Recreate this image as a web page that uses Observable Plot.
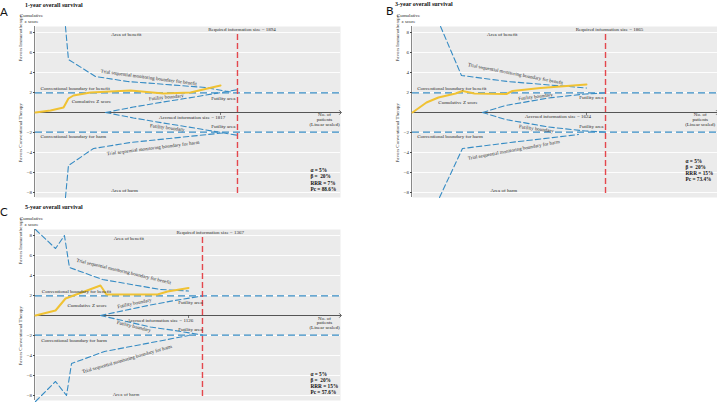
<!DOCTYPE html>
<html><head><meta charset="utf-8">
<script src="https://cdn.jsdelivr.net/npm/d3@7"></script>
<script src="https://cdn.jsdelivr.net/npm/@observablehq/plot@0.6"></script>
<style>
html,body{margin:0;padding:0;background:#fff;overflow:hidden;width:717px;height:402px;position:relative;}
.panel{position:absolute;width:345px;height:200px;}
.letter{position:absolute;font-family:Lato,"Liberation Sans",sans-serif;font-size:11.5px;line-height:1;color:#111;}
.title{position:absolute;font-family:"Liberation Serif",serif;font-weight:bold;font-size:6px;line-height:1;white-space:nowrap;color:#111;}
</style></head><body>
<div class="letter" style="left:0px;top:6px">A</div>
<div class="title" style="left:25px;top:1.5px" id="tA"></div>
<div class="letter" style="left:386px;top:5px">B</div>
<div class="title" style="left:395px;top:1px" id="tB"></div>
<div class="letter" style="left:0px;top:206px">C</div>
<div class="title" style="left:25px;top:203.5px" id="tC"></div>
<div id="A" class="panel" style="left:0px;top:0px"></div>
<div id="B" class="panel" style="left:377px;top:0px"></div>
<div id="C" class="panel" style="left:0px;top:203px"></div>
<script>
// ---------- shared ----------
const yTicks = [8, 6, 4, 2, -2, -4, -6, -8];
const convBoundary = [1.96, -1.96];
const yAxisLabel = "Cumulative\nz score";
const favorsTop = "Favors Immunotherapy";
const favorsBottom = "Favors Conventional Therapy";

// ---------- Panel A: 1-year overall survival ----------
const A_title = "1-year overall survival";
const A_ris = 1894, A_accrued = 1735, A_xmax = 2860;
const A_zX = [0, 141, 263, 309, 356, 516, 891, 1200, 1453, 1613, 1735];
const A_zY = [0, 0.2, 0.5, 1.4, 1.7, 2.0, 2.2, 1.9, 2.0, 2.4, 2.7];
const A_benX = [281, 309, 563, 863, 1594, 1828];
const A_benY = [8.6, 5.3, 3.6, 3.1, 2.5, 2.05];
const A_harmX = [281, 309, 544, 891, 1753];
const A_harmY = [-8.5, -5.3, -3.6, -3.0, -2.05];
const A_futX = [656, 919, 1200, 1547, 1894];
const A_futUp = [0, 0.55, 1.05, 1.65, 2.28];
const A_futLo = [0, -0.55, -1.05, -1.65, -2.28];
const A_stats = ["α = 5%", "β =  20%", "RRR = 7%", "Pc = 88.6%"];
const A_labels = [
  ["Area of benefit", 851, 7.8, 0, "middle"],
  ["Required information size = 1894", 1936, 8.3, 0, "middle"],
  ["Trial sequential monitoring boundary for benefit", 1062, 3.5, 7.5, "middle"],
  ["Conventional boundary for benefit", 47, 2.37, 0, "start"],
  ["Cumulative Z score", 525, 1.13, 0, "middle"],
  ["Futility boundary", 1225, 1.53, -5.5, "middle"],
  ["Futility area", 1875, 1.37, 0, "end"],
  ["Accrued information size = 1817", 1469, -0.47, 0, "middle"],
  ["No. of\npatients\n(Linear scaled)", 2710, -0.7, 0, "middle"],
  ["Futility boundary", 1235, -1.52, 6.7, "middle"],
  ["Futility area", 1875, -1.4, 0, "end"],
  ["Conventional boundary for harm", 47, -2.4, 0, "start"],
  ["Trial sequential monitoring boundary for harm", 1102, -3.55, -7, "middle"],
  ["Area of harm", 835, -7.8, 0, "middle"]
];

// ---------- Panel B: 3-year overall survival ----------
const B_title = "3-year overall survival";
const B_ris = 1865, B_accrued = 1681, B_xmax = 2947;
const B_zX = [0, 135, 251, 416, 483, 599, 908, 966, 1237, 1681];
const B_zY = [0, 1.0, 1.5, 1.9, 2.15, 1.9, 1.85, 2.15, 2.45, 2.8];
const B_benX = [271, 473, 918, 1681];
const B_benY = [8.6, 3.7, 3.1, 2.45];
const B_harmX = [261, 483, 947, 1604];
const B_harmY = [-8.5, -3.6, -3.0, -2.2];
const B_futX = [676, 899, 1314, 1672, 1865];
const B_futUp = [0, 0.7, 1.45, 1.85, 1.96];
const B_futLo = [0, -0.7, -1.45, -1.85, -1.96];
const B_stats = ["α = 5%", "β =  20%", "RRR = 15%", "Pc = 73.4%"];
const B_labels = [
  ["Area of benefit", 867, 7.8, 0, "middle"],
  ["Required information size = 1865", 1904, 8.3, 0, "middle"],
  ["Trial sequential monitoring boundary for benefit", 995, 3.87, 11, "middle"],
  ["Conventional boundary for benefit", 45, 2.37, 0, "start"],
  ["Cumulative Z score", 440, 1.03, 0, "middle"],
  ["Futility boundary", 1189, 1.58, -7, "middle"],
  ["Futility area", 1846, 1.47, 0, "end"],
  ["Accrued information size = 1624", 1406, -0.4, 0, "middle"],
  ["No. of\npatients\n(Linear scaled)", 2780, -0.7, 0, "middle"],
  ["Futility boundary", 1196, -1.63, 7.5, "middle"],
  ["Futility area", 1846, -1.4, 0, "end"],
  ["Conventional boundary for harm", 45, -2.4, 0, "start"],
  ["Trial sequential monitoring boundary for harm", 979, -3.75, -10.4, "middle"],
  ["Area of harm", 883, -7.8, 0, "middle"]
];

// ---------- Panel C: 5-year overall survival ----------
const C_title = "5-year overall survival";
const C_ris = 1367, C_accrued = 1253, C_xmax = 2497;
const C_zX = [0, 164, 246, 532, 581, 999, 1081, 1253];
const C_zY = [0, 0.5, 1.7, 3.0, 2.1, 2.1, 2.4, 2.75];
const C_benX = [0, 164, 237, 278, 548, 1023, 1253];
const C_benY = [8.6, 6.7, 8.0, 4.8, 3.6, 2.6, 2.45];
const C_harmX = [0, 164, 254, 295, 565, 1253];
const C_harmY = [-8.6, -6.6, -8.0, -4.8, -3.6, -2.0];
const C_futX = [532, 941, 1140, 1367];
const C_futUp = [0, 1.05, 1.5, 1.96];
const C_futLo = [0, -1.15, -1.5, -1.96];
const C_stats = ["α = 5%", "β =  20%", "RRR = 15%", "Pc = 57.6%"];
const C_labels = [
  ["Area of benefit", 764, 7.7, 0, "middle"],
  ["Required information size = 1367", 1430, 8.26, 0, "middle"],
  ["Trial sequential monitoring boundary for benefit", 723, 4.4, 13.5, "middle"],
  ["Conventional boundary for benefit", 52, 2.36, 0, "start"],
  ["Cumulative Z score", 423, 1.03, 0, "middle"],
  ["Futility boundary", 810, 1.23, -11.8, "middle"],
  ["Futility area", 1367, 1.26, 0, "end"],
  ["Accrued information size = 1126", 1021, -0.47, 0, "middle"],
  ["No. of\npatients\n(Linear scaled)", 2366, -0.74, 0, "middle"],
  ["Futility boundary", 805, -1.09, 13.8, "middle"],
  ["Futility area", 1367, -1.4, 0, "end"],
  ["Conventional boundary for harm", 47, -2.47, 0, "start"],
  ["Trial sequential monitoring boundary for harm", 750, -4.35, -16, "middle"],
  ["Area of harm", 741, -7.87, 0, "middle"]
];

// ---------- drawing ----------
const blue = "#378cc4", red = "#e4474d", gold = "#f0c233", ink = "#2a2a2a";
const rows = (xs, zs) => xs.map((x, i) => ({x, z: zs[i]}));

function build(c) {
  const lab = c.labels.map(([text, x, z, rotate, anchor]) => ({text, x, z, rotate, anchor}));
  const dash = {x: "x", y: "z", stroke: blue, strokeWidth: 1.1, strokeDasharray: "5.5,3"};
  const txt = {x: "x", y: "z", text: "text", rotate: "rotate", fill: ink, fontSize: 5, lineHeight: 0.95};
  return Plot.plot({
    width: 345, height: 200,
    marginLeft: 35, marginRight: 5, marginTop: 26, marginBottom: 3,
    x: {domain: [0, c.xmax], axis: null},
    y: {domain: [-8.5, 8.6], axis: null},
    style: {fontFamily: "'Liberation Serif', 'Times New Roman', serif", fontSize: "5px", color: ink, background: "transparent", maxWidth: "none", overflow: "visible"},
    marks: [
      Plot.frame({fill: "#ebebeb", stroke: "none"}),
      Plot.gridY(yTicks, {stroke: "#ffffff", strokeOpacity: 1, strokeWidth: 0.9}),
      Plot.axisY(yTicks, {tickSize: 2, tickPadding: 1.5, label: null, fontSize: 5, stroke: "#444"}),
      Plot.ruleX([0], {stroke: "#555", strokeWidth: 0.7, dx: -1}),
      Plot.text([yAxisLabel], {text: d => d, frameAnchor: "top-left", dx: -4, dy: -3.5, lineAnchor: "bottom", textAnchor: "middle", fontSize: 5, lineHeight: 1.25, fill: ink}),
      Plot.text([{z: 5.1, t: favorsTop}, {z: -5.0, t: favorsBottom}], {y: "z", text: "t", frameAnchor: "left", dx: -15, rotate: -90, fontSize: 5, fill: ink}),
      Plot.ruleY(convBoundary, {stroke: blue, strokeWidth: 1.2, strokeDasharray: "7,4"}),
      Plot.line(rows([0, c.xmax], [0, 0]), {x: "x", y: "z", stroke: "#444", strokeWidth: 0.9, markerEnd: "arrow"}),
      Plot.ruleX([c.accrued], {y1: -0.3, y2: 0, stroke: "#444", strokeWidth: 0.7}),
      Plot.line(rows(c.benX, c.benY), dash),
      Plot.line(rows(c.harmX, c.harmY), dash),
      Plot.line(rows(c.futX, c.futUp), dash),
      Plot.line(rows(c.futX, c.futLo), dash),
      Plot.ruleX([c.ris], {y1: -8.1, y2: 8.0, stroke: red, strokeWidth: 1.4, strokeDasharray: "6,3"}),
      Plot.line(rows(c.zX, c.zY), {x: "x", y: "z", stroke: gold, strokeWidth: 2, strokeLinejoin: "round"}),
      ...["start", "middle", "end"].map(a => Plot.text(lab.filter(d => d.anchor === a), {...txt, textAnchor: a})),
      Plot.text([c.stats.join("\n")], {text: d => d, x: c.statsX, y: c.statsZ, textAnchor: "start", lineAnchor: "middle", fontWeight: "bold", fontSize: 5.3, lineHeight: 1.15, fill: "#111"})
    ]
  });
}

const panels = [
  {id: "A", title: A_title, ris: A_ris, accrued: A_accrued, xmax: A_xmax, zX: A_zX, zY: A_zY, benX: A_benX, benY: A_benY, harmX: A_harmX, harmY: A_harmY, futX: A_futX, futUp: A_futUp, futLo: A_futLo, stats: A_stats, statsX: 2578, statsZ: -6.7, labels: A_labels},
  {id: "B", title: B_title, ris: B_ris, accrued: B_accrued, xmax: B_xmax, zX: B_zX, zY: B_zY, benX: B_benX, benY: B_benY, harmX: B_harmX, harmY: B_harmY, futX: B_futX, futUp: B_futUp, futLo: B_futLo, stats: B_stats, statsX: 2638, statsZ: -5.75, labels: B_labels},
  {id: "C", title: C_title, ris: C_ris, accrued: C_accrued, xmax: C_xmax, zX: C_zX, zY: C_zY, benX: C_benX, benY: C_benY, harmX: C_harmX, harmY: C_harmY, futX: C_futX, futUp: C_futUp, futLo: C_futLo, stats: C_stats, statsX: 2251, statsZ: -6.72, labels: C_labels}
];
for (const p of panels) {
  document.getElementById("t" + p.id).textContent = p.title;
  document.getElementById(p.id).appendChild(build(p));
}
</script>
</body></html>
